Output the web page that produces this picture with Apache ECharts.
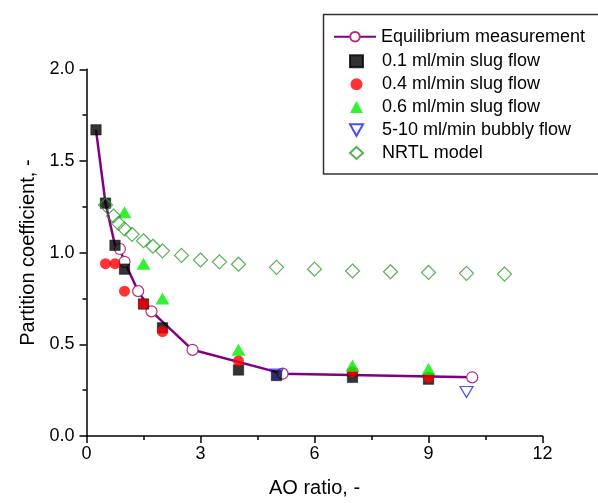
<!DOCTYPE html>
<html>
<head>
<meta charset="utf-8">
<script src="https://cdn.jsdelivr.net/npm/echarts@6/dist/echarts.min.js"></script>
<style>
html,body{margin:0;padding:0;background:#fff;}
#chart{width:598px;height:503px;}
</style>
</head>
<body>
<div id="chart"></div>
<script>
// Equilibrium measurement (line + open circles)
var eqX = [0.25, 0.5, 0.75, 0.88, 1.0, 1.36, 1.71, 2.79, 5.16, 10.15];
var eqY = [1.67, 1.27, 1.04, 1.02, 0.95, 0.79, 0.68, 0.47, 0.34, 0.32];
// 0.1 ml/min slug flow
var s1X = [0.25, 0.5, 0.75, 1.0, 1.5, 2.0, 4.0, 5.0, 7.0, 9.0];
var s1Y = [1.67, 1.27, 1.04, 0.91, 0.72, 0.59, 0.36, 0.33, 0.32, 0.31];
// 0.4 ml/min slug flow
var s4X = [0.5, 0.75, 1.0, 1.5, 2.0, 4.0, 7.0, 9.0];
var s4Y = [0.94, 0.94, 0.79, 0.72, 0.57, 0.41, 0.35, 0.32];
// 0.6 ml/min slug flow
var s6X = [1.0, 1.5, 2.0, 4.0, 7.0, 9.0];
var s6Y = [1.22, 0.94, 0.75, 0.47, 0.385, 0.365];
// 5-10 ml/min bubbly flow
var bbX = [5.0, 10.0];
var bbY = [0.335, 0.24];
// NRTL model
var nrX = [0.5, 0.71, 0.84, 1.0, 1.2, 1.5, 1.75, 2.0, 2.5, 3.0, 3.5, 4.0, 5.0, 6.0, 7.0, 8.0, 9.0, 10.0, 11.0];
var nrY = [1.26, 1.20, 1.16, 1.13, 1.10, 1.065, 1.035, 1.01, 0.985, 0.96, 0.95, 0.937, 0.92, 0.91, 0.90, 0.896, 0.892, 0.887, 0.883];
// axis ticks
var xTicks = [0, 3, 6, 9, 12];
var yTicks = ['0.0', '0.5', '1.0', '1.5', '2.0'];
var seriesNames = ['Equilibrium measurement', '0.1 ml/min slug flow', '0.4 ml/min slug flow',
                   '0.6 ml/min slug flow', '5-10 ml/min bubbly flow', 'NRTL model'];

function pairs(xs, ys) { return xs.map(function (x, i) { return [x, ys[i]]; }); }

var FONT = 'Liberation Sans, Arial, sans-serif';
var chart = echarts.init(document.getElementById('chart'), null, {renderer: 'canvas'});

var eqData = pairs(eqX, eqY).map(function (p, i) {
  return i < 3 ? {value: p, symbol: 'none'} : {value: p};
});

var downTri = 'path://M0,0 L10,0 L5,9 Z';

chart.setOption({
  backgroundColor: '#fff',
  animation: false,
  grid: {left: 86.5, top: 69.3, right: 55.5, bottom: 62.3, containLabel: false},
  xAxis: {
    type: 'value', min: 0, max: 12, interval: 3,
    name: 'AO ratio, -', nameLocation: 'middle', nameGap: 42,
    nameTextStyle: {fontFamily: FONT, fontSize: 20, color: '#000'},
    axisLine: {show: true, onZero: false, lineStyle: {color: '#000', width: 1.5}},
    axisTick: {show: true, inside: false, length: 7, lineStyle: {color: '#000', width: 1.5}},
    minorTick: {show: true, splitNumber: 2, length: 4, lineStyle: {color: '#000', width: 1.5}},
    axisLabel: {fontFamily: FONT, fontSize: 18, color: '#000', margin: 9,
      formatter: function (v) { return xTicks.indexOf(v) >= 0 ? String(v) : ''; }},
    splitLine: {show: false}
  },
  yAxis: {
    type: 'value', min: 0, max: 2, interval: 0.5,
    name: 'Partition coefficient, -', nameLocation: 'middle', nameGap: 48, nameRotate: 90,
    nameTextStyle: {fontFamily: FONT, fontSize: 20, color: '#000'},
    axisLine: {show: true, onZero: false, lineStyle: {color: '#000', width: 1.5}},
    axisTick: {show: true, inside: false, length: 7, lineStyle: {color: '#000', width: 1.5}},
    minorTick: {show: true, splitNumber: 2, length: 4, lineStyle: {color: '#000', width: 1.5}},
    axisLabel: {fontFamily: FONT, fontSize: 18, color: '#000', margin: 12,
      formatter: function (v) { return yTicks[Math.round(v / 0.5)]; }},
    splitLine: {show: false}
  },
  legend: [
    {
      orient: 'vertical', left: 333, top: 26.7, padding: 0,
      itemWidth: 42, itemHeight: 12, itemGap: 2.9,
      textStyle: {fontFamily: FONT, fontSize: 18, color: '#000', lineHeight: 20},
      data: [seriesNames[0]]
    },
    {
      orient: 'vertical', left: 349, top: 51.3, padding: 0,
      itemWidth: 13, itemHeight: 12, itemGap: 2.9,
      textStyle: {fontFamily: FONT, fontSize: 18, color: '#000', lineHeight: 20, padding: [0, 0, 0, 14]},
      data: seriesNames.slice(1)
    }
  ],
  graphic: [{
    type: 'rect', left: 321, top: 12, silent: true,
    shape: {width: 290, height: 159.5},
    style: {fill: 'none', stroke: '#333', lineWidth: 1.5}
  }],
  series: [
    {
      name: seriesNames[0], type: 'line', data: eqData, z: 2,
      symbol: 'circle', symbolSize: 11, showSymbol: true,
      lineStyle: {color: '#800080', width: 2.5},
      itemStyle: {color: '#fff', borderColor: '#b0307f', borderWidth: 1.2}
    },
    {
      name: seriesNames[1], type: 'scatter', data: pairs(s1X, s1Y), z: 3,
      symbol: 'rect', symbolSize: 10.5,
      itemStyle: {color: '#000', borderColor: '#000', borderWidth: 0.5}
    },
    {
      name: seriesNames[2], type: 'scatter', data: pairs(s4X, s4Y), z: 4,
      symbol: 'circle', symbolSize: 11,
      itemStyle: {color: '#ff0000'}
    },
    {
      name: seriesNames[3], type: 'scatter', data: pairs(s6X, s6Y), z: 5,
      symbol: 'triangle', symbolSize: [14, 12],
      itemStyle: {color: '#00ee00'}
    },
    {
      name: seriesNames[4], type: 'scatter', data: pairs(bbX, bbY), z: 6,
      symbol: downTri, symbolSize: [13, 11], symbolKeepAspect: false,
      itemStyle: {color: 'rgba(255,255,255,0)', borderColor: '#2020ff', borderWidth: 1.2}
    },
    {
      name: seriesNames[5], type: 'scatter', data: pairs(nrX, nrY), z: 7,
      symbol: 'diamond', symbolSize: 14,
      itemStyle: {color: 'rgba(255,255,255,0)', borderColor: '#2e9e2e', borderWidth: 1.2}
    }
  ]
});
</script>
</body>
</html>
